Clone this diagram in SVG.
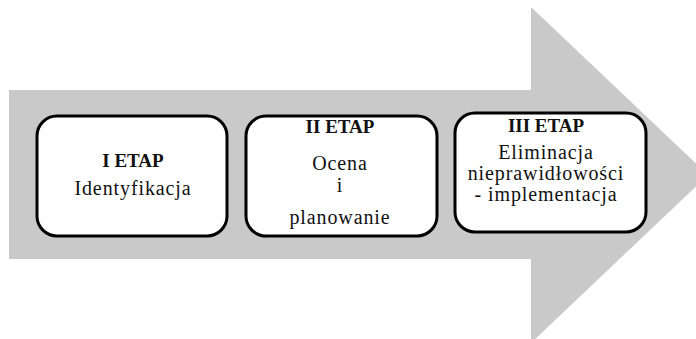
<svg xmlns="http://www.w3.org/2000/svg" width="696" height="339" viewBox="0 0 696 339">
  <style>
    .box { fill: #ffffff; stroke: #000000; stroke-width: 3; }
    .head { font-family: "Liberation Serif", "Times New Roman", serif; font-size: 19px; font-weight: bold; fill: #111111; text-anchor: middle; }
    .body { font-family: "Liberation Serif", "Times New Roman", serif; font-size: 20px; fill: #111111; text-anchor: middle; letter-spacing: 0.9px; }
  </style>
  <rect width="696" height="339" fill="#ffffff"/>

  <!-- big process arrow in the background -->
  <g id="connectors">
    <path d="M9,90 H531 V7 L708,175 L531,343 V259 H9 Z" fill="#c9c9c9"/>
  </g>

  <g id="etap1">
    <rect class="box" x="37" y="116" width="190" height="120" rx="20" ry="20"/>
    <text class="head" x="133" y="167">I ETAP</text>
    <text class="body" x="133" y="195">Identyfikacja</text>
  </g>

  <g id="etap2">
    <rect class="box" x="246" y="116" width="191" height="120" rx="20" ry="20"/>
    <text class="head" x="340" y="133">II ETAP</text>
    <text class="body" x="340" y="170">Ocena</text>
    <text class="body" x="340" y="192">i</text>
    <text class="body" x="340" y="224">planowanie</text>
  </g>

  <g id="etap3">
    <rect class="box" x="455" y="113" width="191" height="119" rx="20" ry="20"/>
    <text class="head" x="546" y="132">III ETAP</text>
    <text class="body" x="546" y="159">Eliminacja</text>
    <text class="body" x="546" y="180">nieprawidłowości</text>
    <text class="body" x="546" y="201">- implementacja</text>
  </g>
</svg>
